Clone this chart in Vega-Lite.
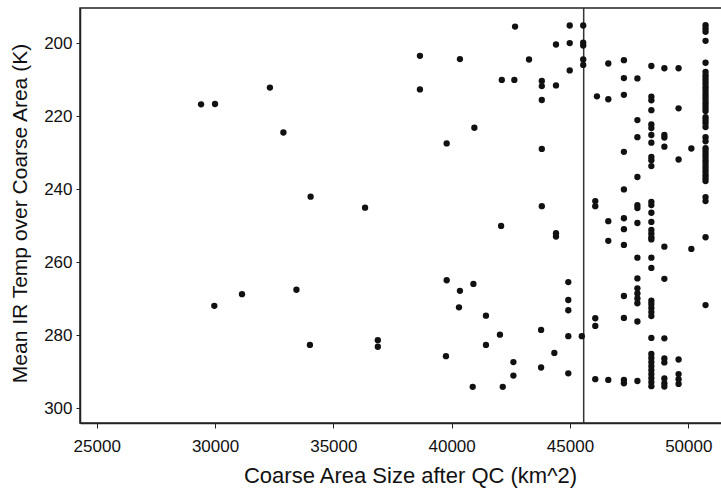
{
  "$schema": "https://vega.github.io/schema/vega-lite/v6.json",
  "width": 645,
  "height": 415,
  "autosize": {"type": "none"},
  "padding": {"left": 80, "top": 8, "right": 0, "bottom": 65},
  "background": "white",
  "config": {
    "view": {"stroke": "#222", "strokeWidth": 1.5},
    "font": "Liberation Sans"
  },
  "datasets": {
    "pts": [
      {"area":29410,"temp":216.8},{"area":30000,"temp":216.7},{"area":32320,"temp":212.2},{"area":32890,"temp":224.5},{"area":34040,"temp":242.1},{"area":29970,"temp":272.0},{"area":31140,"temp":268.8},{"area":33440,"temp":267.6},{"area":34010,"temp":282.7},{"area":36340,"temp":245.1},{"area":36880,"temp":281.4},{"area":36880,"temp":283.2},
      {"area":38660,"temp":203.5},{"area":38660,"temp":212.7},{"area":40350,"temp":204.4},{"area":40960,"temp":223.2},{"area":39790,"temp":227.5},{"area":42120,"temp":210.1},{"area":42650,"temp":210.1},{"area":42680,"temp":195.5},{"area":43270,"temp":204.5},{"area":43810,"temp":210.4},{"area":43810,"temp":211.8},{"area":43810,"temp":215.6},{"area":43810,"temp":229.0},{"area":43810,"temp":244.7},{"area":44410,"temp":200.4},{"area":44410,"temp":211.6},{"area":44410,"temp":252.1},{"area":44410,"temp":253.0},{"area":44990,"temp":195.2},{"area":44990,"temp":200.0},{"area":44990,"temp":207.5},{"area":45560,"temp":195.2},{"area":45560,"temp":199.9},{"area":45560,"temp":200.7},{"area":45560,"temp":204.5},{"area":45560,"temp":206.0},{"area":42090,"temp":250.1},
      {"area":39790,"temp":265.0},{"area":40350,"temp":267.9},{"area":40920,"temp":266.0},{"area":40310,"temp":272.4},{"area":41450,"temp":274.7},{"area":42040,"temp":279.9},{"area":41450,"temp":282.7},{"area":39760,"temp":285.8},{"area":43780,"temp":278.6},{"area":44340,"temp":284.9},{"area":42610,"temp":287.4},{"area":42610,"temp":291.1},{"area":43780,"temp":288.9},{"area":40890,"temp":294.2},{"area":42160,"temp":294.2},{"area":44930,"temp":265.5},{"area":44930,"temp":270.4},{"area":44930,"temp":273.2},{"area":44930,"temp":280.3},{"area":44930,"temp":290.5},{"area":45500,"temp":280.3},
      {"area":46070,"temp":243.3},{"area":46070,"temp":244.7},{"area":46070,"temp":275.4},{"area":46070,"temp":277.5},{"area":46070,"temp":292.1},{"area":46140,"temp":214.6},
      {"area":46620,"temp":205.6},{"area":46620,"temp":215.4},{"area":46620,"temp":248.8},{"area":46620,"temp":254.2},{"area":46620,"temp":292.3},
      {"area":47280,"temp":204.7},{"area":47280,"temp":209.6},{"area":47280,"temp":214.2},{"area":47280,"temp":229.8},{"area":47280,"temp":240.1},{"area":47280,"temp":248.0},{"area":47280,"temp":251.0},{"area":47280,"temp":255.3},{"area":47280,"temp":269.3},{"area":47280,"temp":275.3},{"area":47280,"temp":292.3},{"area":47280,"temp":293.2},
      {"area":47850,"temp":209.7},{"area":47850,"temp":221.1},{"area":47850,"temp":225.8},{"area":47850,"temp":236.7},{"area":47850,"temp":244.4},{"area":47850,"temp":245.2},{"area":47850,"temp":249.3},{"area":47850,"temp":258.8},{"area":47850,"temp":264.5},{"area":47850,"temp":267.2},{"area":47850,"temp":268.6},{"area":47850,"temp":270.0},{"area":47850,"temp":271.3},{"area":47850,"temp":276.3},{"area":47850,"temp":292.6},
      {"area":48440,"temp":206.3},{"area":48440,"temp":214.7},{"area":48440,"temp":215.7},{"area":48440,"temp":218.4},{"area":48440,"temp":222.3},{"area":48440,"temp":223.3},{"area":48440,"temp":225.2},{"area":48440,"temp":227.3},{"area":48440,"temp":231.2},{"area":48440,"temp":232.1},{"area":48440,"temp":233.7},{"area":48440,"temp":243.5},{"area":48440,"temp":244.4},{"area":48440,"temp":246.5},{"area":48440,"temp":249.0},{"area":48440,"temp":251.2},{"area":48440,"temp":252.2},{"area":48440,"temp":253.2},{"area":48440,"temp":253.8},{"area":48440,"temp":258.8},{"area":48440,"temp":261.6},{"area":48440,"temp":270.6},{"area":48440,"temp":271.5},{"area":48440,"temp":272.6},{"area":48440,"temp":273.7},{"area":48440,"temp":274.8},{"area":48440,"temp":280.8},{"area":48440,"temp":285.2},{"area":48440,"temp":286.3},{"area":48440,"temp":287.4},{"area":48440,"temp":288.5},{"area":48440,"temp":289.6},{"area":48440,"temp":290.7},{"area":48440,"temp":291.8},{"area":48440,"temp":292.9},{"area":48440,"temp":294.0},
      {"area":48990,"temp":206.9},{"area":48990,"temp":225.2},{"area":48990,"temp":225.9},{"area":48990,"temp":228.4},{"area":48990,"temp":255.8},{"area":48990,"temp":264.6},{"area":48990,"temp":280.9},{"area":48990,"temp":286.4},{"area":48990,"temp":287.5},{"area":48990,"temp":291.9},{"area":48990,"temp":293.2},{"area":48990,"temp":294.1},
      {"area":49590,"temp":206.9},{"area":49590,"temp":217.9},{"area":49590,"temp":231.9},{"area":49590,"temp":286.7},{"area":49590,"temp":290.7},{"area":49590,"temp":292.1},{"area":49590,"temp":293.4},
      {"area":50130,"temp":228.9},{"area":50130,"temp":256.4},
      {"area":50730,"temp":195.1},{"area":50730,"temp":196.0},{"area":50730,"temp":196.9},{"area":50730,"temp":199.4},{"area":50730,"temp":205.4},{"area":50730,"temp":207.9},{"area":50730,"temp":208.8},{"area":50730,"temp":209.6},{"area":50730,"temp":210.4},{"area":50730,"temp":211.2},{"area":50730,"temp":212.1},{"area":50730,"temp":212.9},{"area":50730,"temp":213.7},{"area":50730,"temp":214.5},{"area":50730,"temp":215.3},{"area":50730,"temp":216.2},{"area":50730,"temp":217.0},{"area":50730,"temp":217.8},{"area":50730,"temp":218.6},{"area":50730,"temp":220.3},{"area":50730,"temp":221.1},{"area":50730,"temp":221.9},{"area":50730,"temp":223.0},{"area":50730,"temp":225.8},{"area":50730,"temp":226.9},{"area":50730,"temp":228.8},{"area":50730,"temp":229.6},{"area":50730,"temp":230.4},{"area":50730,"temp":231.2},{"area":50730,"temp":232.1},{"area":50730,"temp":232.9},{"area":50730,"temp":233.7},{"area":50730,"temp":234.5},{"area":50730,"temp":235.3},{"area":50730,"temp":236.2},{"area":50730,"temp":237.0},{"area":50730,"temp":237.8},{"area":50730,"temp":242.2},{"area":50730,"temp":243.3},{"area":50730,"temp":253.2},{"area":50730,"temp":271.8}
    ],
    "cutoff": [{"area": 45580}]
  },
  "layer": [
    {
      "data": {"name": "cutoff"},
      "mark": {"type": "rule", "color": "#333", "strokeWidth": 1.5},
      "encoding": {
        "x": {"field": "area", "type": "quantitative",
              "scale": {"domain": [24294, 51552], "nice": false, "zero": false}}
      }
    },
    {
      "data": {"name": "pts"},
      "mark": {"type": "circle", "size": 40, "color": "#111", "opacity": 1},
      "encoding": {
        "x": {
          "field": "area", "type": "quantitative",
          "scale": {"domain": [24294, 51552], "nice": false, "zero": false},
          "axis": {
            "title": "Coarse Area Size after QC (km^2)",
            "values": [25000, 30000, 35000, 40000, 45000, 50000],
            "format": "d",
            "grid": false,
            "domainColor": "#222", "domainWidth": 1.5,
            "tickColor": "#222", "tickSize": 5, "tickWidth": 1,
            "labelFont": "Liberation Sans", "labelFontSize": 17, "labelColor": "#111",
            "labelPadding": 10,
            "titleFont": "Liberation Sans", "titleFontSize": 22, "titleFontWeight": "normal", "titleColor": "#111",
            "titleX": 330, "titleY": 59, "titleBaseline": "alphabetic"
          }
        },
        "y": {
          "field": "temp", "type": "quantitative",
          "scale": {"domain": [190.4, 304.1], "reverse": true, "nice": false, "zero": false},
          "axis": {
            "title": "Mean IR Temp over Coarse Area (K)",
            "values": [200, 220, 240, 260, 280, 300],
            "grid": false,
            "domainColor": "#222", "domainWidth": 1.5,
            "tickColor": "#222", "tickSize": 4, "tickWidth": 1,
            "labelFont": "Liberation Sans", "labelFontSize": 17, "labelColor": "#111",
            "labelPadding": 4,
            "titleFont": "Liberation Sans", "titleFontSize": 21, "titleFontWeight": "normal", "titleColor": "#111",
            "titleX": -54, "titleY": 205, "titleBaseline": "alphabetic"
          }
        }
      }
    }
  ]
}
